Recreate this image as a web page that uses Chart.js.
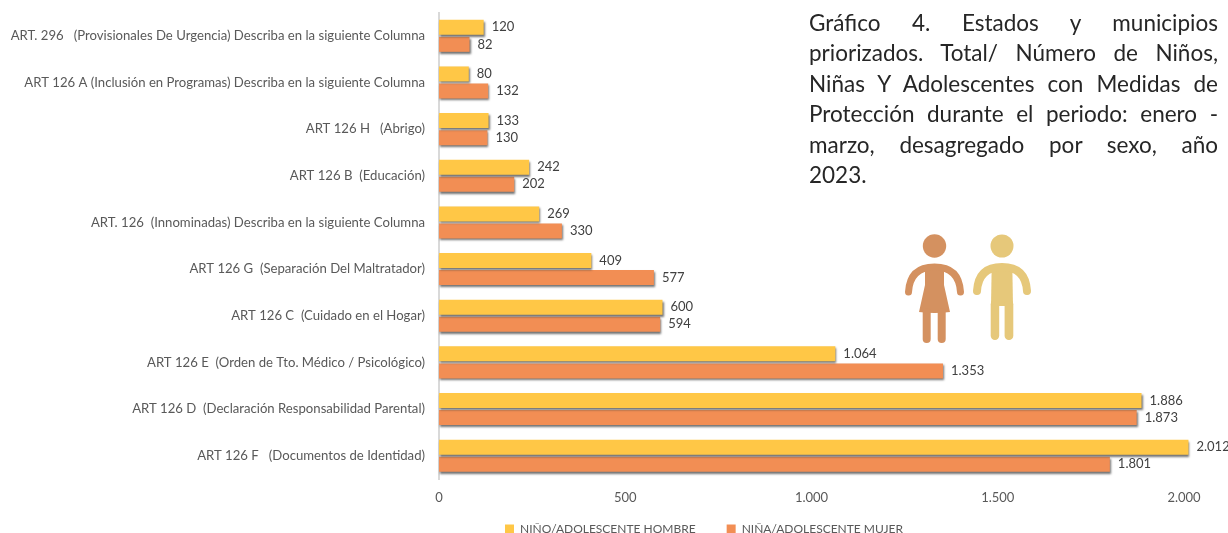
<!DOCTYPE html>
<html lang="es"><head><meta charset="utf-8">
<script src="https://cdn.jsdelivr.net/npm/chart.js@4"></script>
<style>
html,body{margin:0;padding:0;background:#fff;width:1228px;height:533px;overflow:hidden}
#wrap{position:relative;width:1228px;height:533px}
canvas{position:absolute;left:0;top:0}
#title{position:absolute;left:809px;top:8px;width:409px;font:22.5px/30.4px Lato,sans-serif;color:#262626}
#title span{display:block;text-align:justify;text-align-last:justify;white-space:normal}
#title span.last{text-align-last:left}
#kids{position:absolute;left:900px;top:228px}
</style></head><body>
<div id="wrap">
<canvas id="c" width="1228" height="533"></canvas>
<div id="title">
<span>Gráfico 4. Estados y municipios</span>
<span>priorizados. Total/ Número de Niños,</span>
<span>Niñas Y Adolescentes con Medidas de</span>
<span>Protección durante el periodo: enero -</span>
<span>marzo, desagregado por sexo, año</span>
<span class="last">2023.</span>
</div>
<svg id="kids" width="140" height="120" viewBox="900 228 140 120" aria-hidden="true">
<g fill="#D49160">
<circle cx="934.5" cy="246" r="11.7"/>
<path d="M925 266 L944 266 L944 285 L950 312 Q934.5 314 919 312 L925 285 Z"/>
<rect x="922.7" y="308" width="8" height="35" rx="4"/>
<rect x="937.7" y="308" width="8" height="35" rx="4"/>
</g>
<path d="M908.5 292 Q910 267 934.5 267 Q959 267 960.5 292" fill="none" stroke="#D49160" stroke-width="7" stroke-linecap="round"/>
<g fill="#E6C87A">
<circle cx="1002" cy="246" r="11.5"/>
<path d="M991.7 266 L1012.3 266 L1013 306 L991 306 Z"/>
<rect x="990.7" y="300" width="8.5" height="40" rx="4.2"/>
<rect x="1004.6" y="300" width="8.7" height="40" rx="4.3"/>
</g>
<path d="M977 291 Q978.5 267 1002 267 Q1025.5 267 1027 291" fill="none" stroke="#E6C87A" stroke-width="8" stroke-linecap="round"/>
</svg>
</div>
<script>
const categories = [
  "ART. 296   (Provisionales De Urgencia) Describa en la siguiente Columna",
  "ART 126 A (Inclusión en Programas) Describa en la siguiente Columna",
  "ART 126 H   (Abrigo)",
  "ART 126 B  (Educación)",
  "ART. 126  (Innominadas) Describa en la siguiente Columna",
  "ART 126 G  (Separación Del Maltratador)",
  "ART 126 C  (Cuidado en el Hogar)",
  "ART 126 E  (Orden de Tto. Médico / Psicológico)",
  "ART 126 D  (Declaración Responsabilidad Parental)",
  "ART 126 F   (Documentos de Identidad)"
];
const hombre = [120, 80, 133, 242, 269, 409, 600, 1064, 1886, 2012];
const mujer = [82, 132, 130, 202, 330, 577, 594, 1353, 1873, 1801];
const seriesNames = ["NIÑO/ADOLESCENTE HOMBRE", "NIÑA/ADOLESCENTE MUJER"];

const fmt = v => v.toLocaleString("de-DE");
const FONT = "Lato, sans-serif";

const shadowPlugin = {
  id: "barShadow",
  beforeDatasetsDraw(chart) {
    const c = chart.ctx; c.save();
    c.shadowColor = "rgba(70,70,70,0.75)";
    c.shadowBlur = 2; c.shadowOffsetX = 1; c.shadowOffsetY = 2;
  },
  afterDatasetsDraw(chart) { chart.ctx.restore(); }
};
const labelPlugin = {
  id: "valueLabels",
  afterDraw(chart) {
    const c = chart.ctx; c.save();
    c.font = "13px " + FONT; c.fillStyle = "#404040";
    c.textBaseline = "middle"; c.textAlign = "left";
    chart.data.datasets.forEach((ds, i) => {
      chart.getDatasetMeta(i).data.forEach((bar, j) => {
        c.fillText(fmt(ds.data[j]), bar.x + 8, bar.y);
      });
    });
    c.restore();
  }
};
const legendPlace = {
  id: "legendPlace",
  afterLayout(chart) {
    const l = chart.legend;
    const shift = 704 - (l.left + l.right) / 2;
    l.left += shift; l.right += shift;
    l.top = 528 - 5 - 31;
  }
};
new Chart(document.getElementById("c"), {
  type: "bar",
  data: { labels: categories, datasets: [
    { label: seriesNames[0], data: hombre, backgroundColor: "#FFC746", categoryPercentage: 0.73, barPercentage: 0.88, clip: false },
    { label: seriesNames[1], data: mujer, backgroundColor: "#F28E54", categoryPercentage: 0.73, barPercentage: 0.88, clip: false }
  ]},
  options: {
    indexAxis: "y", responsive: false, animation: false,
    layout: { padding: { top: 12.5, right: 44, bottom: -35, left: 0 } },
    plugins: {
      tooltip: { enabled: false },
      legend: { position: "bottom", labels: { boxWidth: 9, boxHeight: 9, padding: 31, color: "#595959", font: { family: FONT, size: 12 } } }
    },
    scales: {
      x: {
        min: 0, max: 2000,
        afterFit(s) { s.height = 36; },
        grid: { display: false },
        border: { display: false },
        ticks: { stepSize: 500, maxRotation: 0, padding: 3, color: "#595959", font: { family: FONT, size: 13 }, callback: v => fmt(v) }
      },
      y: {
        afterFit(s) { s.width = 439; s.paddingTop = 0; s.paddingBottom = 0; },
        grid: { display: false },
        border: { display: true, color: "#D9D9D9", width: 2 },
        ticks: { autoSkip: false, padding: 6, color: "#595959", font: { family: FONT, size: 13.15 } }
      }
    }
  },
  plugins: [shadowPlugin, labelPlugin, legendPlace]
});
</script>
</body></html>
